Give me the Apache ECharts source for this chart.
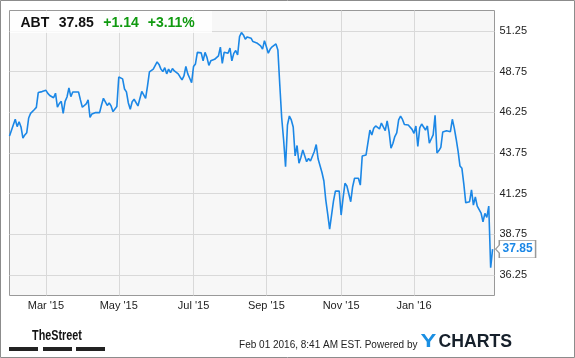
<!DOCTYPE html>
<html><head><meta charset="utf-8">
<script src="https://cdn.jsdelivr.net/npm/echarts@6/dist/echarts.min.js"></script>
<style>html,body{margin:0;padding:0;background:#fff}#c{width:575px;height:358px}</style>
</head><body><div id="c"></div>
<script>
// Trading-day categories (Jan 29 2015 .. Feb 1 2016)
const holidays = ['2015-02-16','2015-04-03','2015-05-25','2015-07-03','2015-09-07','2015-11-26','2015-12-25','2016-01-01','2016-01-18'];
const tradingDays = [];
for (let d = new Date(Date.UTC(2015, 0, 29)); tradingDays.length < 254; d.setUTCDate(d.getUTCDate() + 1)) {
  const wd = d.getUTCDay(), s = d.toISOString().slice(0, 10);
  if (wd !== 0 && wd !== 6 && holidays.indexOf(s) < 0) tradingDays.push(s);
}
// x-axis tick labels and the category index where each sits
const tickLabels = ["Mar '15", "May '15", "Jul '15", "Sep '15", "Nov '15", "Jan '16"];
const tickIdx = [19, 57, 96, 134, 173, 211];
// y-axis labels
const yTicks = [36.25, 38.75, 41.25, 43.75, 46.25, 48.75, 51.25];
// Price series (trading-day index, close)
const dayIdx = [0,3,4,5,6,7,8,9,10,11,12,13,14,15,16,17,18,19,20,21,22,23,24,25,26,27,28,29,30,31,32,33,36,37,38,39,40,41,42,43,44,45,46,47,48,49,50,51,52,53,54,55,56,57,58,59,60,61,62,63,64,65,66,67,68,69,70,71,72,73,74,75,76,77,78,79,80,81,82,83,84,85,86,87,88,89,90,91,92,93,94,95,96,97,98,99,100,101,102,103,104,105,106,107,108,109,110,111,112,113,114,115,116,117,118,119,120,121,122,123,124,125,126,127,128,129,130,131,132,133,134,135,136,137,138,139,140,141,142,143,144,145,146,147,148,149,150,151,152,153,154,155,156,157,158,159,160,161,162,163,164,165,166,167,168,169,170,171,172,173,174,175,176,177,178,179,180,181,182,183,184,185,186,187,188,189,190,191,192,193,194,195,196,197,198,199,200,201,202,203,204,205,206,207,208,209,210,211,212,213,214,215,216,217,218,219,220,221,222,223,224,225,226,227,228,229,230,231,232,233,234,235,236,237,238,239,240,241,242,243,244,245,246,247,248,249,250,251,252];
const price = [44.80,45.82,45.37,45.67,45.35,44.67,44.86,45.00,45.90,46.18,46.30,46.42,46.55,47.46,47.42,47.52,47.46,47.60,47.41,47.28,47.16,47.14,47.42,46.56,46.79,46.92,46.19,46.92,47.19,47.75,47.21,47.50,47.50,47.01,46.56,46.59,46.76,47.01,45.94,46.15,46.18,46.24,46.29,46.23,46.70,47.11,47.01,46.67,46.82,46.64,46.29,46.45,46.60,48.42,48.42,48.30,47.68,47.50,46.82,46.44,46.90,47.05,47.01,46.64,46.52,47.53,47.42,47.11,47.87,48.73,48.82,48.90,49.01,49.34,49.19,48.90,48.75,48.99,48.61,48.90,48.69,48.94,48.79,48.75,48.61,48.42,48.24,48.48,49.06,48.61,48.34,48.07,49.06,49.22,49.93,50.02,49.90,49.41,49.93,49.62,49.13,49.41,49.44,49.50,49.59,49.71,50.25,49.25,49.94,49.84,49.88,50.19,49.41,49.87,50.04,49.77,50.90,51.15,51.00,50.74,50.88,50.97,50.80,50.59,50.54,50.51,50.49,50.33,50.13,50.65,50.28,49.88,50.13,50.27,50.36,50.45,50.08,47.93,45.90,44.55,42.91,45.47,46.02,45.78,45.35,43.57,44.21,43.12,43.47,43.93,44.04,43.22,43.41,43.26,43.22,43.84,44.27,43.38,43.35,42.55,42.03,40.86,40.00,39.08,39.94,40.80,41.41,41.41,41.41,39.94,40.98,41.89,41.72,41.60,40.76,41.68,42.20,42.20,42.20,41.78,43.57,43.60,43.63,43.63,45.16,44.86,45.27,45.41,45.50,45.23,45.59,45.35,45.13,45.72,45.06,44.04,44.33,44.76,44.98,45.78,46.01,45.81,45.50,45.47,45.47,45.44,45.20,44.96,45.41,44.15,45.29,45.53,45.59,45.16,45.41,44.36,44.61,44.86,46.06,43.75,43.90,44.10,45.04,45.10,45.12,45.09,45.06,45.82,45.29,44.61,43.87,42.95,42.81,41.84,40.69,40.68,40.76,41.48,40.55,41.05,40.49,40.45,40.06,39.53,40.04,39.79,40.49,36.71,37.85];
const ticker = 'ABT', lastPrice = '37.85', change = '+1.14', changePct = '+3.11%';

const FONT = '"Liberation Sans", Arial, sans-serif';
const LINE = '#1b87e6';
const showTick = (i) => tickIdx.indexOf(i) >= 0;

const chart = echarts.init(document.getElementById('c'), null, {renderer: 'canvas'});
chart.setOption({
  animation: false,
  backgroundColor: '#fff',
  grid: {left: 9.5, right: 80.5, top: 10.5, bottom: 62.5, show: true,
         backgroundColor: '#f7f7f7', borderColor: '#999', borderWidth: 1},
  xAxis: {
    type: 'category', data: tradingDays, boundaryGap: false,
    axisLine: {show: false}, axisTick: {show: false},
    axisLabel: {interval: (i) => showTick(i), formatter: (v, i) => tickLabels[tickIdx.indexOf(i)] || '',
                color: '#222', fontSize: 11, fontFamily: FONT, margin: 5},
    splitLine: {show: true, interval: (i) => showTick(i), lineStyle: {color: '#d9d9d9', width: 1}}
  },
  yAxis: {
    type: 'value', position: 'right', min: 35, max: 52.5, interval: 1.25,
    axisLine: {show: false}, axisTick: {show: false},
    axisLabel: {formatter: (v) => yTicks.some(t => Math.abs(t - v) < 1e-6) ? v.toFixed(2) : '',
                color: '#222', fontSize: 11, fontFamily: FONT, margin: 5},
    splitLine: {show: true, lineStyle: {color: ['rgba(0,0,0,0)', '#d9d9d9'], width: 1}}
  },
  series: [{
    type: 'line', data: dayIdx.map((d, i) => [d, price[i]]),
    symbol: 'none', lineStyle: {color: LINE, width: 1.6}, z: 3,
    markPoint: {
      symbol: 'path://M0,8.65 L3.7,4.6 L3.7,0 L40,0 L40,17.3 L3.7,17.3 L3.7,12.7 Z',
      symbolSize: [40, 17.3], symbolKeepAspect: false, symbolOffset: [23, 0],
      itemStyle: {color: '#fff', borderColor: '#999', borderWidth: 1},
      label: {show: true, position: 'inside', formatter: lastPrice, color: LINE,
              fontWeight: 'bold', fontSize: 12, fontFamily: FONT, offset: [2, 0]},
      data: [{coord: [252, 37.85]}]
    }
  }],
  graphic: [
    {type: 'rect', z: 10, shape: {x: 10, y: 11, width: 202, height: 22}, style: {fill: 'rgba(255,255,255,0.8)'}},
    {type: 'text', z: 11, x: 20.5, y: 23.5, style: {text: ticker, font: 'bold 14px ' + FONT, fill: '#111', textVerticalAlign: 'middle'}},
    {type: 'text', z: 11, x: 58.7, y: 23.5, style: {text: lastPrice, font: 'bold 14px ' + FONT, fill: '#111', textVerticalAlign: 'middle'}},
    {type: 'text', z: 11, x: 103.3, y: 23.5, style: {text: change, font: 'bold 14px ' + FONT, fill: '#109a10', textVerticalAlign: 'middle'}},
    {type: 'text', z: 11, x: 147.7, y: 23.5, style: {text: changePct, font: 'bold 14px ' + FONT, fill: '#109a10', textVerticalAlign: 'middle'}},
    {type: 'rect', z: 10, shape: {x: 0.5, y: 0.5, width: 574, height: 357}, style: {fill: 'none', stroke: '#8c8c8c', lineWidth: 1}},
    {type: 'text', z: 11, x: 57, y: 336, scaleX: 0.72, style: {text: 'TheStreet', font: 'bold 15px ' + FONT, fill: '#111', textAlign: 'center', textVerticalAlign: 'middle'}},
    {type: 'rect', z: 10, shape: {x: 9, y: 347, width: 29, height: 4}, style: {fill: '#222'}},
    {type: 'rect', z: 10, shape: {x: 43, y: 347, width: 29, height: 4}, style: {fill: '#222'}},
    {type: 'rect', z: 10, shape: {x: 76, y: 347, width: 29, height: 4}, style: {fill: '#222'}},
    {type: 'text', z: 11, x: 417.5, y: 345, style: {text: 'Feb 01 2016, 8:41 AM EST. Powered by', font: '10px ' + FONT, fill: '#222', textAlign: 'right', textVerticalAlign: 'middle'}},
    {type: 'text', z: 11, x: 420.5, y: 341.5, scaleX: 1.25, style: {text: 'Y', font: 'bold 19px ' + FONT, fill: '#1a8fe3', textVerticalAlign: 'middle'}},
    {type: 'text', z: 11, x: 438.5, y: 341.5, scaleX: 0.93, style: {text: 'CHARTS', font: 'bold 19px ' + FONT, fill: '#16202b', textVerticalAlign: 'middle'}}
  ]
});
</script></body></html>
